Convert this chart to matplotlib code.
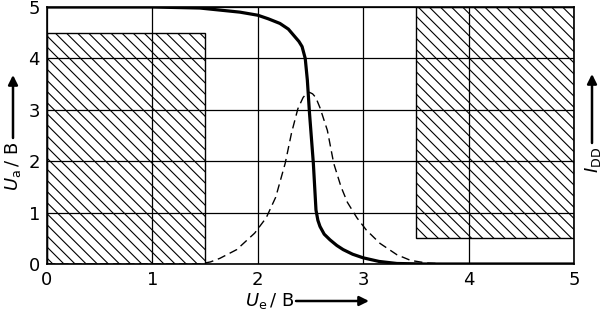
import matplotlib
matplotlib.use("Agg")
import matplotlib.pyplot as plt
from matplotlib.patches import Rectangle

plt.rcParams["font.family"] = "DejaVu Sans"
plt.rcParams["hatch.linewidth"] = 0.8

# Uebertragungskennlinie U_a(U_e)
ue_kennlinie = [0.0, 0.5, 1.0, 1.45, 1.83, 2.0, 2.1, 2.21, 2.29, 2.34, 2.39, 2.42,
                2.45, 2.47, 2.49, 2.527, 2.552, 2.57, 2.59, 2.63, 2.685, 2.75,
                2.81, 2.9, 3.0, 3.15, 3.32, 3.6, 5.0]
ua_kennlinie = [5.0, 5.0, 5.0, 4.98, 4.9, 4.84, 4.77, 4.68, 4.57, 4.45, 4.33, 4.23,
                4.0, 3.58, 2.95, 1.96, 1.05, 0.85, 0.73, 0.58, 0.47, 0.36,
                0.28, 0.19, 0.12, 0.05, 0.01, 0.0, 0.0]

# Querstrom I_DD (gestrichelt)
ue_strom = [0.0, 1.45, 1.55, 1.64, 1.80, 1.97, 2.08, 2.17, 2.26, 2.32, 2.38, 2.43,
            2.46, 2.49, 2.52, 2.55, 2.59, 2.66, 2.72, 2.79, 2.85, 2.94, 3.03,
            3.16, 3.32, 3.45, 3.6, 3.8, 5.0]
idd_strom = [0.0, 0.0, 0.04, 0.11, 0.28, 0.6, 0.9, 1.3, 1.96, 2.55, 3.02, 3.24,
             3.31, 3.34, 3.31, 3.24, 3.04, 2.6, 1.96, 1.5, 1.2, 0.9, 0.66,
             0.40, 0.18, 0.07, 0.02, 0.0, 0.0]

# verbotene Bereiche (schraffiert): (x0, y0, breite, hoehe)
bereiche = [(0.0, 0.0, 1.5, 4.5), (3.5, 0.5, 1.5, 4.5)]

ticks = [0, 1, 2, 3, 4, 5]

fig = plt.figure(figsize=(6.05, 3.15), dpi=100)
ax = fig.add_axes([47 / 605, 1 - 264 / 315, 527 / 605, 257 / 315])

for x0, y0, w, h in bereiche:
    ax.add_patch(Rectangle((x0, y0), w, h, facecolor="none", edgecolor="black",
                           hatch="\\\\\\", linewidth=1.0, zorder=1))

ax.plot(ue_strom, idd_strom, color="black", linewidth=1.0,
        dashes=(6, 3.5), zorder=3)
ax.plot(ue_kennlinie, ua_kennlinie, color="black", linewidth=2.3,
        solid_capstyle="butt", solid_joinstyle="round", zorder=4)

ax.set_xlim(0, 5)
ax.set_ylim(0, 5)
ax.set_xticks(ticks)
ax.set_yticks(ticks)
ax.grid(True, color="black", linewidth=0.9)
ax.set_axisbelow(True)
ax.tick_params(length=0, labelsize=13, pad=5)
for s in ax.spines.values():
    s.set_linewidth(1.2)

# Achsenbeschriftungen mit Pfeilen
fig.text(13 / 605, 149 / 315, r"$U_{\mathrm{a}}\,$/ B", rotation=90,
         ha="center", va="center", fontsize=13)
fig.text(593 / 605, 155 / 315, r"$I_{\mathrm{DD}}$", rotation=90,
         ha="center", va="center", fontsize=13)
fig.text(270 / 605, 14 / 315, r"$U_{\mathrm{e}}\,$/ B",
         ha="center", va="center", fontsize=13)

pfeil = dict(arrowstyle="-|>", color="black", linewidth=1.8, mutation_scale=14,
             shrinkA=0, shrinkB=0)
ax.annotate("", xy=(13 / 605, 240 / 315), xytext=(13 / 605, 177 / 315),
            xycoords="figure fraction", textcoords="figure fraction",
            arrowprops=pfeil)
ax.annotate("", xy=(592 / 605, 241 / 315), xytext=(592 / 605, 172 / 315),
            xycoords="figure fraction", textcoords="figure fraction",
            arrowprops=pfeil)
ax.annotate("", xy=(369 / 605, 14 / 315), xytext=(296 / 605, 14 / 315),
            xycoords="figure fraction", textcoords="figure fraction",
            arrowprops=pfeil)

fig.savefig("out.png", dpi=100)
